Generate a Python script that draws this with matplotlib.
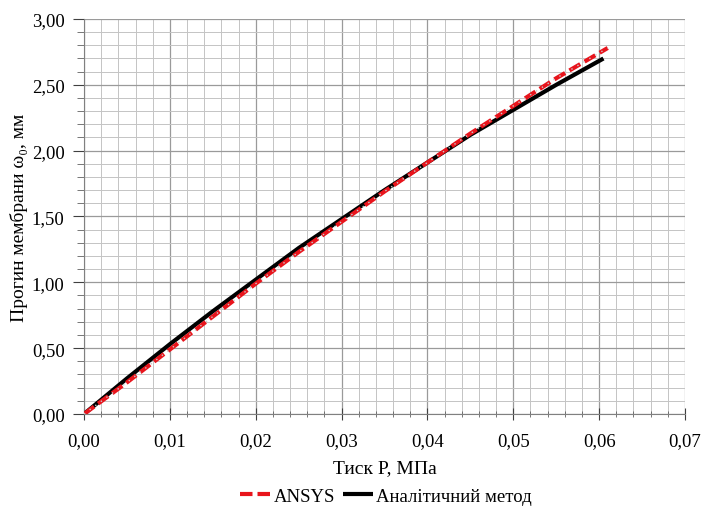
import numpy as np
import matplotlib.pyplot as plt
from matplotlib.ticker import MultipleLocator, FuncFormatter

plt.rcParams['font.family'] = ['Liberation Serif', 'DejaVu Serif']

# pressure, MPa
p_ansys = [0.0, 0.005, 0.01, 0.015, 0.02, 0.025, 0.03, 0.035, 0.04, 0.045, 0.05, 0.055, 0.061]
w_ansys = [0.0, 0.24, 0.49, 0.74, 0.99, 1.23, 1.46, 1.69, 1.91, 2.13, 2.34, 2.55, 2.78]
p_anal = [0.0, 0.005, 0.01, 0.015, 0.02, 0.025, 0.03, 0.035, 0.04, 0.045, 0.05, 0.055, 0.0605]
w_anal = [0.0, 0.27, 0.53, 0.78, 1.02, 1.26, 1.48, 1.70, 1.91, 2.12, 2.31, 2.50, 2.70]

fig = plt.figure(figsize=(7.02, 5.10), dpi=100)
ax = fig.add_axes([0.1197, 0.1863, 0.8561, 0.7745])

ax.plot(p_anal, w_anal, color='black', lw=3.0, solid_capstyle='butt',
        label='Аналітичний метод', zorder=3)
ax.plot(p_ansys, w_ansys, color='#e8141c', lw=3.0, ls=(0, (3, 1.2)),
        label='ANSYS', zorder=4)
ax.plot(p_ansys, w_ansys, color='#c8c8c8', lw=1.0, ls=(0, (1, 4)), zorder=5)

ax.set_xlim(0, 0.07)
ax.set_ylim(0, 3.0)
ax.xaxis.set_major_locator(MultipleLocator(0.01))
ax.xaxis.set_minor_locator(MultipleLocator(0.002))
ax.yaxis.set_major_locator(MultipleLocator(0.5))
ax.yaxis.set_minor_locator(MultipleLocator(0.1))
fmt = FuncFormatter(lambda v, pos: ('%.2f' % v).replace('.', ','))
ax.xaxis.set_major_formatter(fmt)
ax.yaxis.set_major_formatter(fmt)

ax.grid(which='major', color='#9a9a9a', lw=0.9)
ax.grid(which='minor', color='#c4c4c4', lw=0.7)
ax.set_axisbelow(True)

for s in ['top', 'right']:
    ax.spines[s].set_visible(False)
for s in ['left', 'bottom']:
    ax.spines[s].set_color('#808080')
ax.tick_params(which='major', length=8, color='#404040', labelsize=13.5, pad=6)
ax.tick_params(which='minor', length=5, color='#606060')
ax.tick_params(axis='y', which='both', direction='out')
ax.tick_params(axis='x', which='both', direction='inout', pad=9)

ax.set_xlabel('Тиск P, МПа', fontsize=14, labelpad=7)
ax.set_ylabel('Прогин мембрани ω₀, мм', fontsize=14, labelpad=3)

h, l = ax.get_legend_handles_labels()
fig.legend([h[1], h[0]], [l[1], l[0]], loc='lower center', ncol=2, frameon=False,
           fontsize=13.5, bbox_to_anchor=(0.55, -0.025), handlelength=1.6,
           handletextpad=0.2, columnspacing=0.4)

fig.savefig('out.png', dpi=100)
